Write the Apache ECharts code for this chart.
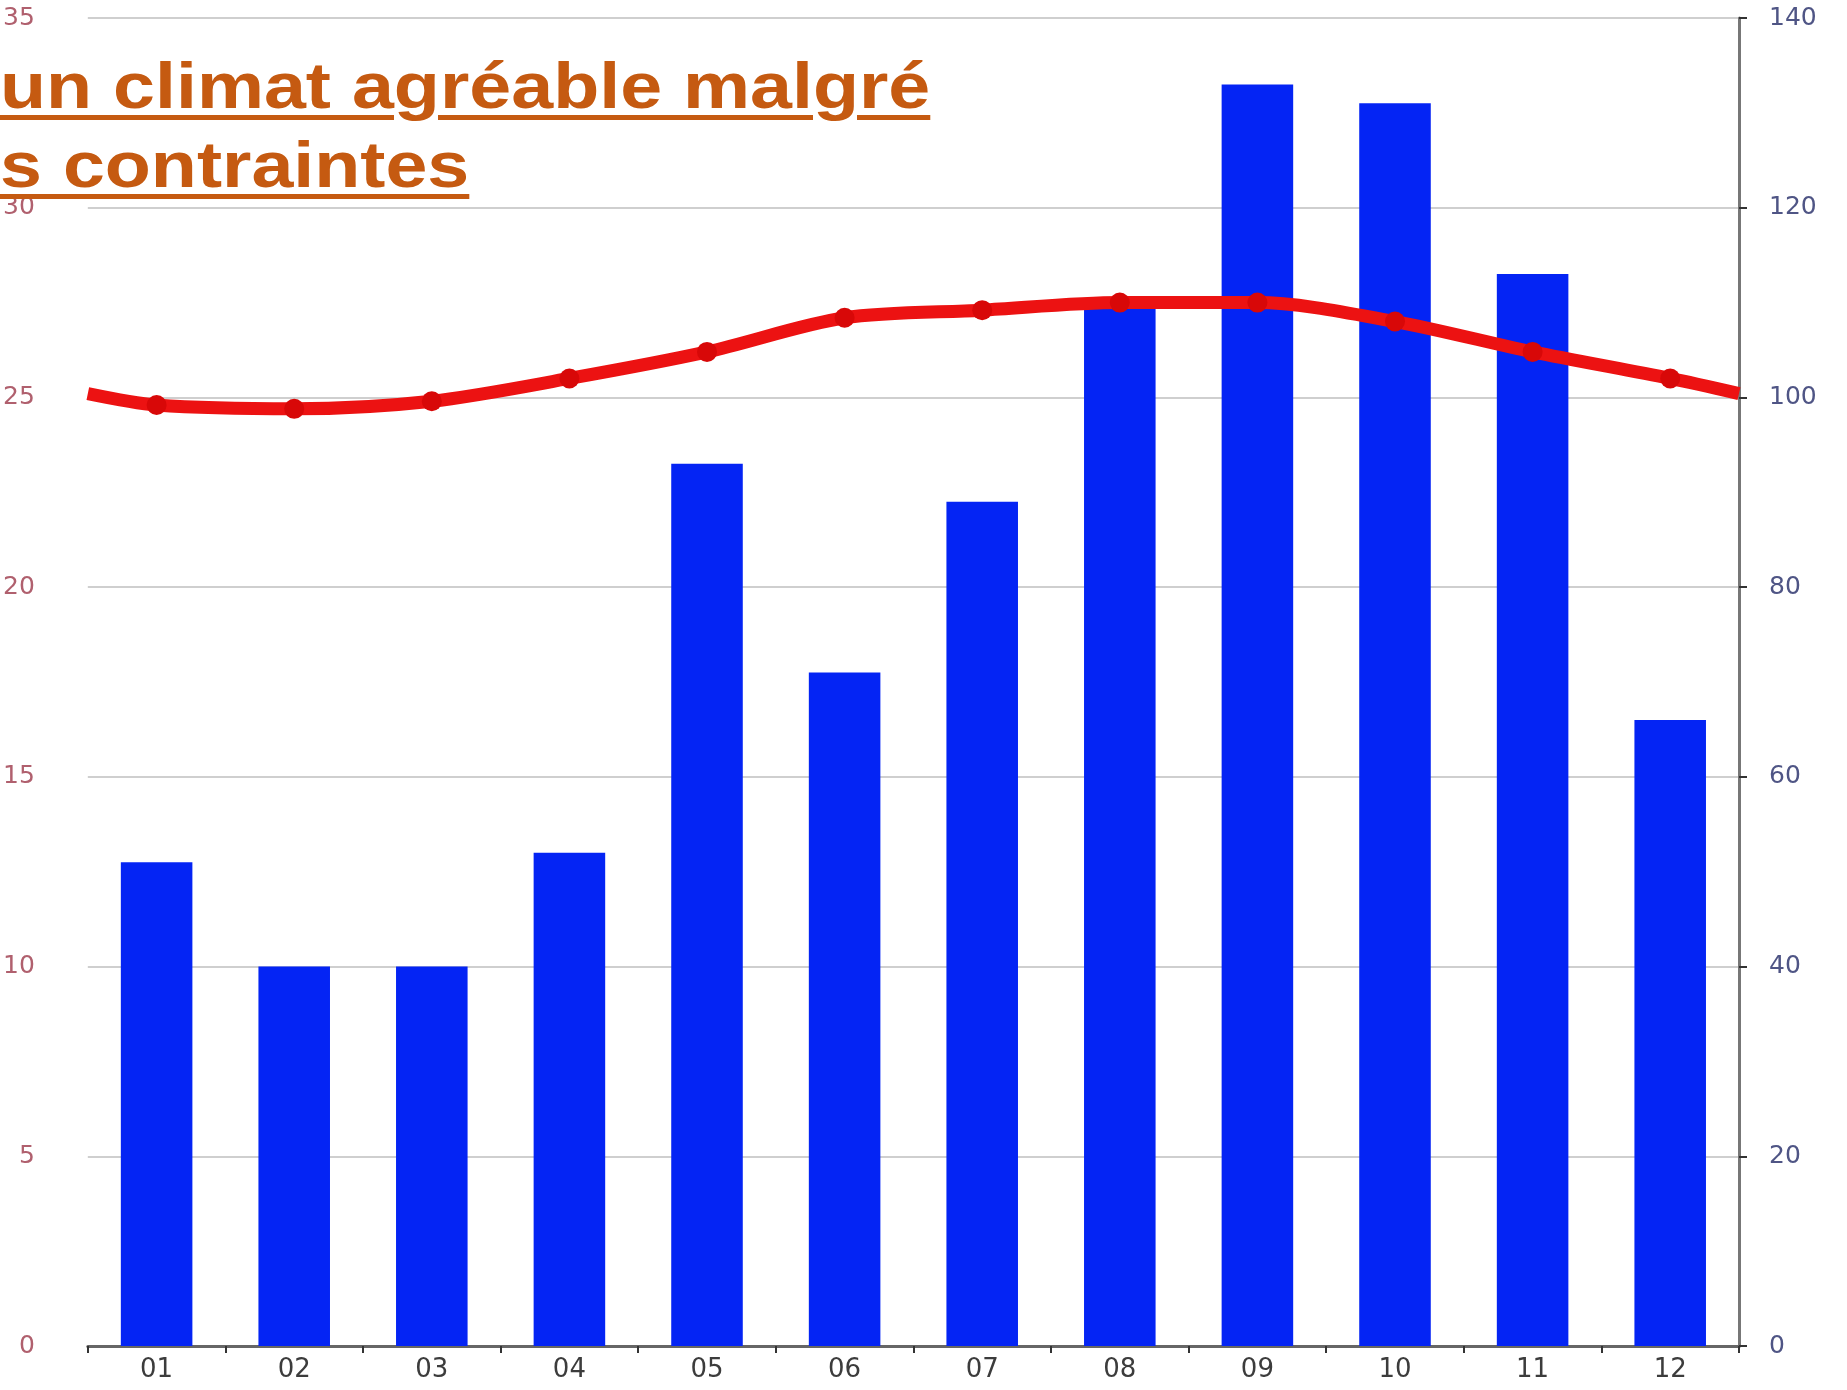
<!DOCTYPE html>
<html>
<head>
<meta charset="utf-8">
<script src="https://cdn.jsdelivr.net/npm/echarts@6/dist/echarts.min.js"></script>
<style>
  html, body {
    margin: 0;
    padding: 0;
    background: #fff;
  }
  #chart {
    width: 1847px;
    height: 1390px;
  }
  .title {
    position: absolute;
    left: 0;
    top: 46px;
    font-family: "Liberation Sans", Arial, sans-serif;
    font-weight: bold;
    font-size: 65px;
    line-height: 79px;
    color: #c55a11;
    text-decoration: underline;
    text-decoration-thickness: 5px;
    text-underline-offset: 7px;
    white-space: nowrap;
    transform: scaleX(1.16);
    transform-origin: left top;
  }
</style>
</head>
<body>
<div id="chart"></div>
<div class="title">un climat agréable malgré<br>s contraintes</div>
<script>
// mois
const months = ['01', '02', '03', '04', '05', '06', '07', '08', '09', '10', '11', '12']
// précipitations (axe de droite)
const rain = [51, 40, 40, 52, 93, 71, 89, 110, 133, 131, 113, 66]
// températures (axe de gauche)
const temp = [24.8, 24.7, 24.9, 25.5, 26.2, 27.1, 27.3, 27.5, 27.5, 27.0, 26.2, 25.5]
// la courbe déborde jusqu'aux bords du graphique
const tempStart = 25.1
const tempEnd = 25.1

const chart = echarts.init(document.getElementById('chart'))

const lineData = [{value: [0, tempStart], symbol: 'none'}]
temp.forEach((t, i) => lineData.push([i + 0.5, t]))
lineData.push({value: [months.length, tempEnd], symbol: 'none'})

const option = {
  backgroundColor: '#fff',
  animation: false,
  grid: {
    left: 86,
    right: 108,
    top: 18,
    bottom: 44
  },
  xAxis: [
    {
      type: 'category',
      data: months,
      axisLine: {
        lineStyle: {color: '#666', width: 3}
      },
      axisTick: {
        show: true,
        length: 7,
        lineStyle: {color: '#333', width: 2}
      },
      axisLabel: {
        color: '#3c3c3c',
        fontFamily: 'DejaVu Sans',
        fontSize: 26,
        margin: 11
      }
    },
    {
      type: 'value',
      min: 0,
      max: months.length,
      show: false
    }
  ],
  yAxis: [
    {
      type: 'value',
      min: 0,
      max: 35,
      interval: 5,
      axisLine: {show: false},
      axisTick: {show: false},
      axisLabel: {
        color: '#b0606e',
        fontFamily: 'DejaVu Sans',
        fontSize: 25,
        margin: 53
      },
      splitLine: {
        lineStyle: {color: '#cfcfcf', width: 2}
      }
    },
    {
      type: 'value',
      min: 0,
      max: 140,
      interval: 20,
      position: 'right',
      axisLine: {
        show: true,
        lineStyle: {color: '#777', width: 3}
      },
      axisTick: {
        show: true,
        length: 8,
        lineStyle: {color: '#333', width: 2}
      },
      axisLabel: {
        color: '#4f5585',
        fontFamily: 'DejaVu Sans',
        fontSize: 25,
        margin: 30
      },
      splitLine: {show: false}
    }
  ],
  series: [
    {
      name: 'Précipitations',
      type: 'bar',
      xAxisIndex: 0,
      yAxisIndex: 1,
      data: rain,
      barWidth: '52%',
      itemStyle: {
        color: '#0424f4'
      }
    },
    {
      name: 'Températures',
      type: 'line',
      xAxisIndex: 1,
      yAxisIndex: 0,
      data: lineData,
      smooth: 0.3,
      symbol: 'circle',
      symbolSize: 20,
      lineStyle: {color: '#ec1212', width: 13},
      itemStyle: {color: '#d80808'},
      z: 5
    }
  ]
}
chart.setOption(option)
</script>
</body>
</html>
